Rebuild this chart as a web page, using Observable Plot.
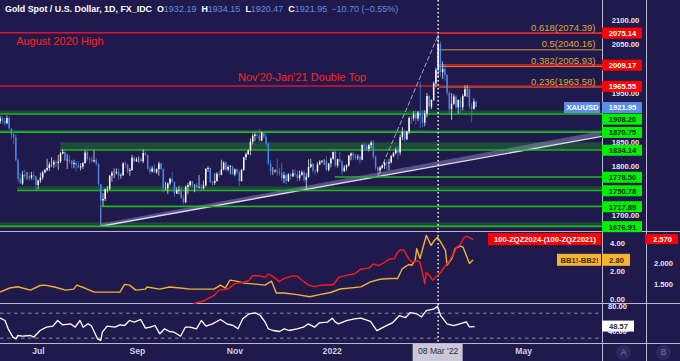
<!DOCTYPE html>
<html><head><meta charset="utf-8">
<script src="https://cdn.jsdelivr.net/npm/d3@7"></script>
<script src="https://cdn.jsdelivr.net/npm/@observablehq/plot@0.6"></script>
<style>
html,body{margin:0;padding:0;background:#201a4c;}
#chart{position:relative;width:680px;height:361px;overflow:hidden;background:#201a4c;font-family:'Liberation Sans',Arial,sans-serif;}
.sep{position:absolute;background:#bcb8d4;}
#hdr{position:absolute;left:5px;top:4px;font-size:8.9px;line-height:10px;color:#fff;white-space:nowrap;font-weight:bold;}
#hdr .k{margin-left:5px;font-weight:bold;color:#fff;}
#hdr .v{color:#5e8fe2;font-weight:normal;font-size:9px;}
.btn{position:absolute;width:15px;height:15px;border-radius:50%;background:#2e2862;color:#77739c;font-size:8.5px;line-height:15px;text-align:center;}
</style></head><body><div id="chart"></div>
<script>
// ---------------- data ----------------
const firstDay = "2021-06-07", lastDay = "2022-03-31";
const firstOpen = 1892;
const closes = [
1898,1893,1888,1899,1877, 1866,1859,1812,1774,1764, 1782,1779,1779,1776,1781, 1779,1761,1770,1776,1787,
1792,1796,1803,1803,1808, 1806,1809,1826,1829,1812, 1813,1811,1804,1806,1802, 1797,1799,1806,1828,1814,
1813,1810,1812,1804,1763, 1729,1732,1752,1753,1780, 1786,1786,1788,1780,1781, 1805,1803,1790,1792,1817,
1810,1814,1814,1810,1827, 1823,1794,1788,1795,1787, 1794,1805,1794,1754,1754, 1764,1774,1768,1743,1750,
1751,1734,1726,1757,1761, 1768,1760,1761,1756,1757, 1754,1760,1794,1796,1768, 1765,1769,1784,1782,1793,
1807,1793,1798,1799,1783, 1793,1788,1769,1792,1818, 1824,1832,1850,1862,1865, 1863,1852,1869,1860,1846,
1805,1789,1789,1791,1788, 1785,1775,1781,1769,1783, 1779,1785,1783,1775,1782, 1787,1771,1778,1798,1804,
1791,1789,1803,1809,1811, 1811,1792,1805,1815,1829, 1801,1814,1810,1789,1797, 1801,1821,1826,1821,1817,
1819,1813,1843,1840,1835, 1843,1848,1819,1797,1791, 1797,1801,1807,1805,1808, 1820,1826,1833,1828,1859,
1870,1855,1871,1899,1898, 1906,1898,1910,1903,1889, 1908,1944,1922,1936,1970, 1998,2051,1993,2000,1988,
1951,1917,1928,1943,1921, 1936,1921,1944,1958,1958, 1923,1918,1932.65,1921.95];
const highs = [
1903,1903,1899,1904,1902, 1878,1870,1865,1815,1785, 1790,1793,1788,1786,1788, 1789,1780,1772,1786,1790,
1794,1815,1808,1818,1813, 1812,1823,1829,1834,1830, 1825,1823,1812,1813,1810, 1810,1806,1808,1832,1832,
1819,1820,1832,1816,1807, 1762,1744,1754,1759,1781, 1790,1795,1795,1795,1785, 1808,1810,1805,1796,1823,
1820,1818,1820,1817,1834, 1830,1823,1800,1800,1804, 1795,1809,1806,1795,1767, 1766,1776,1787,1765,1756,
1759,1757,1741,1760,1765, 1770,1770,1763,1765,1781, 1763,1770,1796,1800,1797, 1770,1785,1787,1790,1813,
1810,1810,1802,1802,1801, 1795,1795,1791,1794,1819, 1828,1834,1857,1867,1869, 1868,1877,1871,1870,1866,
1849,1812,1798,1793,1815, 1796,1807,1788,1784,1785, 1786,1793,1793,1790,1791, 1791,1791,1786,1814,1815,
1807,1792,1808,1812,1812, 1814,1820,1806,1818,1830, 1831,1815,1829,1811,1802, 1804,1823,1828,1829,1825,
1824,1822,1845,1847,1844, 1845,1852,1853,1822,1799, 1800,1803,1809,1811,1815, 1823,1829,1838,1842,1865,
1880,1873,1872,1902,1903, 1913,1914,1913,1974,1915, 1915,1950,1946,1937,1974, 2002,2070,2057,2015,2010,
1988,1954,1950,1948,1946, 1937,1942,1948,1966,1966, 1961,1929,1939,1934.15];
const lows = [
1887,1886,1883,1886,1875, 1856,1845,1810,1768,1763, 1761,1774,1772,1770,1772, 1771,1750,1752,1765,1772,
1785,1789,1790,1798,1796, 1798,1792,1806,1824,1810, 1794,1805,1796,1795,1789, 1795,1791,1794,1805,1810,
1805,1807,1807,1800,1758, 1677,1718,1728,1745,1750, 1768,1775,1782,1772,1774, 1780,1796,1785,1780,1790,
1807,1808,1807,1808,1806, 1820,1792,1782,1787,1785, 1784,1780,1792,1745,1750, 1742,1760,1765,1737,1743,
1742,1733,1721,1723,1742, 1757,1756,1746,1755,1754, 1749,1752,1758,1788,1765, 1759,1761,1768,1777,1781,
1791,1790,1789,1783,1782, 1779,1783,1759,1768,1790, 1812,1823,1822,1844,1851, 1857,1850,1851,1856,1840,
1802,1781,1782,1786,1780, 1780,1770,1765,1762,1767, 1772,1777,1778,1768,1770, 1780,1766,1753,1776,1796,
1786,1782,1786,1802,1806, 1802,1790,1789,1797,1813, 1798,1797,1807,1782,1788, 1790,1799,1812,1812,1812,
1812,1805,1812,1833,1831, 1830,1836,1815,1791,1780, 1786,1795,1794,1792,1791, 1805,1818,1824,1814,1822,
1853,1850,1853,1866,1887, 1893,1886,1893,1878,1880, 1882,1900,1916,1917,1934, 1962,1982,1983,1979,1976,
1945,1906,1895,1926,1917, 1908,1909,1914,1942,1942, 1917,1890,1916,1920.47];

const quoteLabels = ["O","H","L","C"];
const quoteValues = [1932.19, 1934.15, 1920.47, 1921.95];
const quoteChange = -10.70, quoteChangePct = -0.55;

const redLevels = [2075.14, 2009.17, 1965.55];
const redFrom = ["2021-06-07", "2022-03-09", "2021-06-07"];
const greenLevels = [1908.20, 1870.75, 1834.14, 1778.50, 1750.78, 1717.89, 1676.91];
const greenFrom = ["2021-06-07","2021-06-07","2021-07-15","2022-01-03","2021-06-18","2021-08-09","2021-06-07"];
const greenZoneTop = [1914, 1874, 1849, 1778.5, 1758, 1720, 1684];
const fibRatios = [0.618, 0.5, 0.382, 0.236];
const fibPrices = [2074.39, 2040.16, 2005.93, 1963.58];
const fibFrom = "2022-03-09";
const swingDates = ["2022-01-28", "2022-03-08"];
const swingPrices = [1780.5, 2070];
const trendDates = ["2021-08-09", "2022-06-19"];
const trendPrices = [1677, 1862];
const trendTop = [1681, 1872];
const priceTicks = [2100, 2050, 2000, 1950, 1900, 1850, 1800, 1750, 1700];
const annTexts = ["August 2020 High", "Nov'20-Jan'21 Double Top"];
const annDates = ["2021-06-17", "2021-11-03"];
const crossDay = "2022-03-08";
const crossLabel = "08 Mar '22";

const bbName = "BB1!-BB2!";
const bbDates = ["2021-06-07","2021-06-13","2021-06-18","2021-06-26","2021-07-02","2021-07-05","2021-07-11","2021-07-18","2021-07-23","2021-07-25","2021-07-30","2021-08-05","2021-08-15","2021-08-21","2021-08-24","2021-08-27","2021-08-31","2021-09-06","2021-09-07","2021-09-15","2021-09-21","2021-09-28","2021-10-04","2021-10-10","2021-10-19","2021-10-23","2021-10-26","2021-10-29","2021-11-02","2021-11-07","2021-11-14","2021-11-20","2021-11-24","2021-11-27","2021-12-02","2021-12-10","2021-12-18","2021-12-24","2021-12-31","2022-01-06","2022-01-19","2022-01-25","2022-01-31","2022-02-06","2022-02-11","2022-02-14","2022-02-18","2022-02-20","2022-02-22","2022-02-23","2022-02-25","2022-03-01","2022-03-04","2022-03-06","2022-03-08","2022-03-10","2022-03-13","2022-03-14","2022-03-17","2022-03-19","2022-03-22","2022-03-24","2022-03-26","2022-03-28","2022-03-30"];
const bbValues = [0.55,0.82,0.91,0.67,1.0,1.03,0.89,0.67,0.74,1.03,0.82,0.53,0.53,0.53,1.08,1.03,0.67,0.74,0.89,0.74,0.89,0.82,0.74,0.74,0.74,1.03,0.82,1.38,1.31,1.17,1.10,1.03,1.31,0.46,0.46,0.35,0.2,0.35,0.5,0.75,0.9,1.26,1.45,1.5,1.5,2.21,2.5,2.45,2.8,3.63,2.92,4.57,3.87,4.22,4.45,4.1,3.51,2.45,2.92,3.63,3.82,3.74,3.16,2.57,2.80];
const bbTicks = [4, 2, 0];

const zqName = "100-ZQZ2024-(100-ZQZ2021)";
const zqDates = ["2021-10-06","2021-10-13","2021-10-19","2021-10-22","2021-10-28","2021-11-01","2021-11-06","2021-11-10","2021-11-12","2021-11-16","2021-11-20","2021-11-22","2021-11-24","2021-11-29","2021-12-02","2021-12-07","2021-12-10","2021-12-13","2021-12-17","2021-12-21","2021-12-26","2022-01-01","2022-01-03","2022-01-05","2022-01-11","2022-01-15","2022-01-19","2022-01-24","2022-01-27","2022-01-30","2022-02-03","2022-02-06","2022-02-09","2022-02-11","2022-02-13","2022-02-15","2022-02-18","2022-02-20","2022-02-23","2022-02-25","2022-02-27","2022-02-28","2022-03-01","2022-03-03","2022-03-05","2022-03-06","2022-03-10","2022-03-13","2022-03-15","2022-03-18","2022-03-20","2022-03-22","2022-03-24","2022-03-26","2022-03-29","2022-03-30"];
const zqValues = [1.04,1.12,1.24,1.36,1.40,1.52,1.55,1.60,1.71,1.71,1.67,1.75,1.71,1.57,1.65,1.70,1.70,1.60,1.49,1.45,1.49,1.49,1.55,1.67,1.73,1.75,1.87,1.89,1.99,1.95,2.03,2.11,2.11,2.27,2.33,2.31,2.11,2.03,2.07,2.03,1.71,1.52,1.79,1.71,1.60,1.64,1.79,1.95,2.03,2.23,2.39,2.43,2.59,2.65,2.60,2.57];
const zqTicks = [2.0, 1.5];

const rsiDates = ["2021-06-07","2021-06-10","2021-06-12","2021-06-15","2021-06-17","2021-06-18","2021-06-21","2021-06-26","2021-06-28","2021-07-02","2021-07-06","2021-07-10","2021-07-13","2021-07-16","2021-07-21","2021-07-24","2021-07-27","2021-07-29","2021-08-01","2021-08-03","2021-08-07","2021-08-09","2021-08-10","2021-08-13","2021-08-18","2021-08-21","2021-08-24","2021-08-27","2021-08-30","2021-09-03","2021-09-06","2021-09-09","2021-09-12","2021-09-15","2021-09-18","2021-09-21","2021-09-24","2021-09-28","2021-10-01","2021-10-04","2021-10-08","2021-10-11","2021-10-14","2021-10-18","2021-10-23","2021-10-27","2021-10-31","2021-11-03","2021-11-06","2021-11-10","2021-11-14","2021-11-17","2021-11-20","2021-11-22","2021-11-25","2021-11-29","2021-12-02","2021-12-05","2021-12-10","2021-12-14","2021-12-17","2021-12-21","2021-12-24","2021-12-29","2022-01-01","2022-01-03","2022-01-05","2022-01-10","2022-01-15","2022-01-19","2022-01-25","2022-01-29","2022-02-04","2022-02-08","2022-02-12","2022-02-16","2022-02-19","2022-02-23","2022-02-26","2022-03-01","2022-03-06","2022-03-08","2022-03-10","2022-03-14","2022-03-18","2022-03-22","2022-03-26","2022-03-28","2022-03-31"];
const rsiValues = [62,58.3,45,31.6,29,34.3,33.2,34.3,31.6,42.3,47.6,49.2,58.3,51.4,53,47.6,58.3,47.6,53,50.3,29,26.3,39.6,49.2,47.6,51.4,50.3,58.3,55.6,59.9,46,47.6,50.3,37,45,40.7,39.6,33.2,47.6,47.6,45,58.3,49.2,53,59.9,53,50.3,45,61,69,70.6,66.3,55.6,45,42.3,40.7,45,42.3,45,47.6,53,47.6,54.6,55.6,62,55.6,53,58,61,62,57,42,50,55,66,63,71,69,64,74,77,81,66,53,50,53,56,48,48.57];
const rsiBands = [70, 30];
const rsiTicks = [80, 40];

const timeTickDates = ["2021-07-01","2021-09-01","2021-11-01","2022-01-01","2022-05-01"];
const timeTickLabels = ["Jul","Sep","Nov","2022","May"];

// ---------------- helpers ----------------
const FONT = "'Liberation Sans', Arial, sans-serif";
const parse = s => new Date(s + "T00:00:00Z");
const X0 = new Date("2021-06-07T04:34:00Z"), X1 = new Date("2022-06-19T09:07:00Z");
const barPos = d => new Date(d3.utcMonday.floor(d).getTime() + (d.getUTCDay() - 1) * 1.4 * 864e5);
const xEnd = () => X1;
const root = document.getElementById("chart");

function addPane(top, opts) {
  const svg = Plot.plot(Object.assign({
    width: 680, marginLeft: 0, marginRight: 78, marginTop: 0, marginBottom: 0,
    x: {type: "utc", domain: [X0, X1], axis: null},
    color: {type: "identity"},
    style: {background: "transparent", fontFamily: FONT, overflow: "visible"}
  }, opts));
  svg.style.position = "absolute"; svg.style.left = "0px"; svg.style.top = top + "px";
  root.appendChild(svg);
}
function sep(l, t, w, h) { const d = document.createElement("div"); d.className = "sep"; Object.assign(d.style, {left: l + "px", top: t + "px", width: w + "px", height: h + "px"}); root.appendChild(d); }

sep(0, 231, 680, 1); sep(0, 303, 680, 1); sep(0, 343, 680, 1);
sep(602, 0, 1, 361); sep(646, 0, 1, 361);

// ---------------- candles ----------------
const bars = d3.utcDay.range(parse(firstDay), d3.utcDay.offset(parse(lastDay), 1)).filter(d => d.getUTCDay() > 0 && d.getUTCDay() < 6);
const n = Math.min(bars.length, closes.length);
const candles = d3.range(n).map(i => {
  const open = i === n - 1 ? quoteValues[0] : (i ? closes[i - 1] : firstOpen);
  return {x: barPos(bars[i]), open, close: closes[i], high: highs[i], low: lows[i], col: closes[i] >= open ? "#ffffff" : "#4a86e8"};
});
const cross = barPos(parse(crossDay));

// ---------------- price pane ----------------
const yDomP = [1666.3, 2141.6];
const yP = d3.scaleLinear(yDomP, [231, 0]);
const greens = greenLevels.map((v, i) => ({v, from: parse(greenFrom[i]), top: greenZoneTop[i]}));
const reds = redLevels.map((v, i) => ({v, from: parse(redFrom[i])}));
const fibs = fibRatios.map((r, i) => ({r, v: fibPrices[i], label: `${r}(${fibPrices[i].toFixed(2)})`}));
const swing = swingDates.map((d, i) => ({x: barPos(parse(d)), y: swingPrices[i]}));
const trend = trendDates.map((d, i) => ({x: parse(d), y: trendPrices[i], top: trendTop[i]}));

const tags = [
  ...redLevels.map(v => ({v, bg: "#ff0000", fg: "#ffffff"})),
  {v: quoteValues[3], bg: "#5a8ee8", fg: "#ffffff", name: "XAUUSD"},
  ...greenLevels.map(v => ({v, bg: "#00f000", fg: "#0d2a0d"}))
].sort((a, b) => b.v - a.v);
let lastY = -1e9;
for (const t of tags) { let y = yP(t.v) + 0.8; if (y < lastY + 11.6) y = lastY + 11.6; t.vy = yP.invert(y); t.py = y; lastY = y; }
// axis labels fully covered by a price tag are not drawn (as on the reference)
const shownTicks = priceTicks.filter(p => !tags.some(t => Math.abs(t.py - yP(p)) < 4));

const labelFont = {fontSize: 7.6, fontWeight: "bold"};
addPane(0, {
  height: 231,
  y: {domain: yDomP, axis: null},
  marks: [
    Plot.rect(greens.filter(g => g.top > g.v), {x1: "from", x2: xEnd, y1: "v", y2: "top", fill: "#1e4b3b"}),
    Plot.area(trend, {x1: "x", y1: "y", y2: "top", fill: "#9e95cc", fillOpacity: 0.45}),
    Plot.ruleX(trend.slice(0, 1), {x: "x", y1: "y", y2: d => d.y + 37, stroke: "#9a96bc", strokeWidth: 1}),
    Plot.line(trend, {x: "x", y: "y", stroke: "#dedaf0", strokeWidth: 1.4}),
    Plot.ruleY(greens, {y: "v", x1: "from", x2: xEnd, stroke: "#22b622", strokeWidth: 1.6}),
    Plot.ruleY(fibs, {y: "v", x1: () => parse(fibFrom), x2: xEnd, stroke: "#c99630", strokeWidth: 1}),
    Plot.ruleY(reds, {y: "v", x1: "from", x2: xEnd, stroke: "#d9142b", strokeWidth: 1.6}),
    Plot.line(swing, {x: "x", y: "y", stroke: "#aaa6c8", strokeWidth: 1, strokeDasharray: "4,3"}),
    Plot.ruleX(candles, {x: "x", y1: "low", y2: "high", stroke: "col", strokeWidth: 0.8, strokeOpacity: 0.85}),
    Plot.ruleX(candles, {x: "x", y1: "open", y2: "close", stroke: "col", strokeWidth: 1.5}),
    Plot.ruleX([cross], {x: d => d, stroke: "#ffffff", strokeWidth: 1.4, strokeDasharray: "1.4,2.6"}),
    Plot.text([annTexts[0]], {x: () => parse(annDates[0]), y: () => redLevels[0], dy: 9, text: d => d, textAnchor: "start", fill: "#ff2222", fontSize: 11}),
    Plot.text([annTexts[1]], {x: () => parse(annDates[1]), y: () => redLevels[2], dy: -8.5, text: d => d, textAnchor: "start", fill: "#ff2222", fontSize: 11}),
    Plot.text(fibs, {x: xEnd, y: "v", dx: -7, dy: -5.5, text: "label", textAnchor: "end", fill: "#dfa73a", fontSize: 9.5}),
    Plot.text(shownTicks, {x: xEnd, y: d => d, dx: 23, text: d => d.toFixed(2), fill: "#e6e4f0", ...labelFont}),
    Plot.rect(tags, {x1: xEnd, x2: xEnd, y1: "vy", y2: "vy", insetLeft: 0, insetRight: -40, insetTop: -5.5, insetBottom: -5.5, fill: "bg"}),
    Plot.text(tags, {x: xEnd, y: "vy", dx: 20, text: d => d.v.toFixed(2), fill: "fg", ...labelFont}),
    Plot.rect(tags.filter(t => t.name), {x1: xEnd, x2: xEnd, y1: "vy", y2: "vy", insetLeft: -38, insetRight: 2, insetTop: -5.5, insetBottom: -5.5, fill: "bg"}),
    Plot.text(tags.filter(t => t.name), {x: xEnd, y: "vy", dx: -20, text: "name", fill: "fg", ...labelFont})
  ]
});

// ---------------- middle pane ----------------
const bb = bbDates.map((d, i) => ({x: parse(d), y: bbValues[i]}));
const zq = zqDates.map((d, i) => ({x: parse(d), y: zqValues[i]}));
const bbLast = bbValues[bbValues.length - 1], zqLast = zqValues[zqValues.length - 1];
addPane(231, {
  height: 73,
  y: {domain: [-0.357, 4.857], axis: null},
  marks: [
    Plot.ruleX([cross], {x: d => d, stroke: "#ffffff", strokeWidth: 1.4, strokeDasharray: "1.4,2.6"}),
    Plot.line(bb, {x: "x", y: "y", stroke: "#f2b132", strokeWidth: 1.4, clip: true}),
    Plot.text(bbTicks, {x: xEnd, y: d => d, dx: 15, text: d => d.toFixed(2), fill: "#e6e4f0", ...labelFont}),
    Plot.rect([bbLast], {x1: xEnd, x2: xEnd, y1: d => d, y2: d => d, insetLeft: -45, insetRight: 1, insetTop: -6, insetBottom: -6, fill: "#f5b52e"}),
    Plot.text([bbLast], {x: xEnd, y: d => d, dx: -23, text: () => bbName, fill: "#3a2a10", ...labelFont}),
    Plot.rect([bbLast], {x1: xEnd, x2: xEnd, y1: d => d, y2: d => d, insetLeft: 0, insetRight: -28, insetTop: -6, insetBottom: -6, fill: "#f5b52e"}),
    Plot.text([bbLast], {x: xEnd, y: d => d, dx: 14, text: d => d.toFixed(2), fill: "#3a2a10", ...labelFont})
  ]
});
addPane(231, {
  height: 73,
  y: {domain: [1.024, 2.762], axis: null},
  marks: [
    Plot.line(zq, {x: "x", y: "y", stroke: "#ff1a1a", strokeWidth: 1.4, clip: true}),
    Plot.text(zqTicks, {x: xEnd, y: d => d, dx: 61, text: d => d.toFixed(3), fill: "#e6e4f0", ...labelFont}),
    Plot.rect([zqLast], {x1: xEnd, x2: xEnd, y1: d => d, y2: d => d, insetLeft: -114, insetRight: 1, insetTop: -6, insetBottom: -6, fill: "#ff0000"}),
    Plot.text([zqLast], {x: xEnd, y: d => d, dx: -57.5, text: () => zqName, fill: "#ffffff", ...labelFont}),
    Plot.rect([zqLast], {x1: xEnd, x2: xEnd, y1: d => d, y2: d => d, insetLeft: 43, insetRight: -76, insetTop: -5, insetBottom: -5, fill: "#ff0000"}),
    Plot.text([zqLast], {x: xEnd, y: d => d, dx: 60, text: d => d.toFixed(3), fill: "#ffffff", ...labelFont})
  ]
});

// ---------------- RSI pane + time axis ----------------
const rsi = rsiDates.map((d, i) => ({x: parse(d), y: rsiValues[i]}));
const rsiLast = rsiValues[rsiValues.length - 1];
const timeTicks = timeTickDates.map((d, i) => ({x: parse(d), label: timeTickLabels[i]}));
addPane(304, {
  height: 57, marginBottom: 18,
  y: {domain: [21.5, 83.9], axis: null},
  marks: [
    Plot.ruleY(rsiBands, {stroke: "#8e8aac", strokeWidth: 1, strokeDasharray: "3.5,3.5"}),
    Plot.ruleX([cross], {x: d => d, stroke: "#ffffff", strokeWidth: 1.4, strokeDasharray: "1.4,2.6"}),
    Plot.line(rsi, {x: "x", y: "y", stroke: "#ffffff", strokeWidth: 1.3, clip: true}),
    Plot.text(rsiTicks, {x: xEnd, y: d => d, dx: 15, text: d => d.toFixed(2), fill: "#e6e4f0", ...labelFont}),
    Plot.rect([rsiLast], {x1: xEnd, x2: xEnd, y1: d => d, y2: d => d, insetLeft: 0, insetRight: -32, insetTop: -5.5, insetBottom: -5.5, fill: "#ffffff"}),
    Plot.text([rsiLast], {x: xEnd, y: d => d, dx: 16, text: d => d.toFixed(2), fill: "#333333", ...labelFont}),
    Plot.text(timeTicks, {x: "x", frameAnchor: "bottom", dy: 10, text: "label", fill: "#cfcde2", fontSize: 8.6, fontWeight: "bold"}),
    Plot.rect([cross], {x1: d => d, x2: d => d, insetLeft: -25, insetRight: -25, insetTop: 40, insetBottom: -18, fill: "#cac8d8"}),
    Plot.text([crossLabel], {x: () => cross, frameAnchor: "bottom", dy: 10, text: d => d, fill: "#2a2838", fontSize: 8.6})
  ]
});

// ---------------- header & buttons ----------------
const hdr = document.createElement("div"); hdr.id = "hdr";
const fmt = v => v.toFixed(2);
const minus = v => (v < 0 ? "\u2212" : "+") + Math.abs(v).toFixed(2);
hdr.innerHTML = "Gold Spot / U.S. Dollar, 1D, FX_IDC" +
  quoteLabels.map((k, i) => `<span class="k">${k}</span><span class="v">${fmt(quoteValues[i])}</span>`).join("") +
  `<span class="v" style="margin-left:4px">${minus(quoteChange)} (${minus(quoteChangePct)}%)</span>`;
root.appendChild(hdr);
["A", "B"].forEach((t, i) => { const b = document.createElement("div"); b.className = "btn"; b.textContent = t; b.style.left = (616 + i * 40) + "px"; b.style.top = "345px"; root.appendChild(b); });
</script></body></html>
